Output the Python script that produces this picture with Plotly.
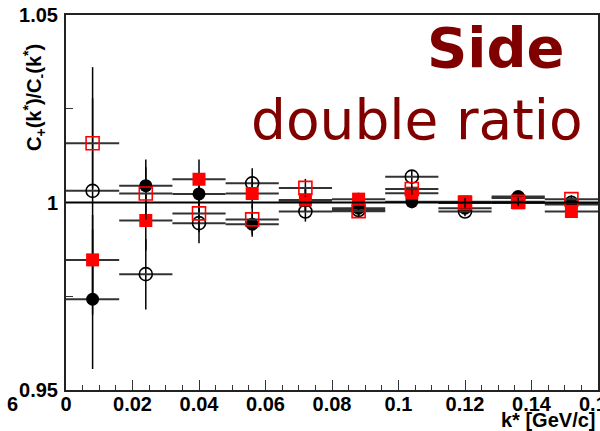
import plotly.graph_objects as go

# ---- data ----
kstar = [0.008, 0.024, 0.040, 0.056, 0.072, 0.088, 0.104, 0.120, 0.136, 0.152]
kstar_halfwidth = [0.008] * 10

filled_circle = [0.9742, 1.0045, 1.0023, 0.9942, 1.0005, 0.9985, 1.0002, 0.9985, 1.0016, 0.9995]
filled_circle_err = [0.0186, 0.0070, 0.0050, 0.0033, 0.0030, 0.0020, 0.0017, 0.0013, 0.0011, 0.0010]

open_circle = [1.0031, 0.9809, 0.9945, 1.0051, 0.9976, 0.9980, 1.0069, 0.9976, 1.0012, 0.9999]
open_circle_err = [0.0330, 0.0094, 0.0054, 0.0040, 0.0027, 0.0020, 0.0018, 0.0013, 0.0011, 0.0010]

filled_square = [0.9847, 0.9952, 1.0062, 1.0024, 1.0007, 1.0009, 1.0025, 1.0002, 0.9999, 0.9976]
filled_square_err = [0.0120, 0.0080, 0.0053, 0.0040, 0.0030, 0.0017, 0.0018, 0.0013, 0.0011, 0.0010]

open_square = [1.0158, 1.0024, 0.9971, 0.9955, 1.0039, 0.9977, 1.0036, 0.9999, 1.0002, 1.0009]
open_square_err = [0.0120, 0.0070, 0.0050, 0.0040, 0.0024, 0.0018, 0.0018, 0.0013, 0.0011, 0.0010]

x_tickvals = [0, 0.02, 0.04, 0.06, 0.08, 0.10, 0.12, 0.14]
x_ticktext = ["0", "0.02", "0.04", "0.06", "0.08", "0.1", "0.12", "0.14"]
x_last_tick = 0.16
x_last_ticktext = "0.16"
y_tickvals = [0.95, 1.0, 1.05]
y_ticktext = ["0.95", "1", "1.05"]

# ---- layout geometry ----
W, H = 600, 431
ML, MR, MT, MB = 66, 2, 15, 41
PW, PH = W - ML - MR, H - MT - MB


def px_x(p):
    return (p - ML) / PW


def px_y(p):
    return (H - MB - p) / PH


fig = go.Figure()

series = [
    (filled_circle, filled_circle_err, "circle", "black", 0),
    (open_circle, open_circle_err, "circle-open", "black", 1.6),
    (filled_square, filled_square_err, "square", "#ff0000", 0),
    (open_square, open_square_err, "square-open", "#ff0000", 1.6),
]

for vals, errs, sym, col, lw in series:
    fig.add_trace(go.Scatter(
        x=kstar, y=vals, mode="markers",
        marker=dict(symbol=sym, size=13, color=col,
                    line=dict(width=lw, color=col)),
        error_y=dict(type="data", array=errs, visible=True,
                     color="black", thickness=1.5, width=0),
        error_x=dict(type="data", array=kstar_halfwidth, visible=True,
                     color="#333333", thickness=2, width=0),
        showlegend=False, cliponaxis=True,
    ))

fig.add_hline(y=1.0, line=dict(color="black", width=2))

tickfont = dict(family="Liberation Sans, Arial, sans-serif", size=20,
                color="black", weight="bold")

fig.update_layout(
    width=W, height=H,
    margin=dict(l=ML, r=MR, t=MT, b=MB, autoexpand=False),
    paper_bgcolor="white", plot_bgcolor="white",
    xaxis=dict(range=[0, 0.16], tickvals=x_tickvals + [x_last_tick],
               ticktext=x_ticktext + [""],
               ticks="inside", ticklen=10, tickwidth=1.2, tickcolor="#333",
               minor=dict(dtick=0.005, tick0=0, ticks="inside", ticklen=5,
                          tickwidth=1.2, tickcolor="#333"),
               showline=True, linecolor="#222", linewidth=2, mirror=True,
               showgrid=False, zeroline=False, tickfont=tickfont,
               automargin=False, ticklabelstandoff=-5),
    yaxis=dict(range=[0.95, 1.05], tickvals=y_tickvals, ticktext=y_ticktext,
               ticks="inside", ticklen=10, tickwidth=1.2, tickcolor="#333",
               minor=dict(dtick=0.025, tick0=0.95, ticks="inside", ticklen=7,
                          tickwidth=1.2, tickcolor="#333"),
               showline=True, linecolor="#222", linewidth=2, mirror=True,
               showgrid=False, zeroline=False, tickfont=tickfont,
               automargin=False, ticklabelstandoff=2),
)

bold20 = dict(family="Liberation Sans, Arial", size=20, color="black", weight="bold")
annots = [
    dict(text="C<sub>+</sub>(k<sup>*</sup>)/C<sub>-</sub>(k<sup>*</sup>)",
         xref="paper", x=px_x(34), y=px_y(98), textangle=-90, font=bold20,
         xanchor="center", yanchor="middle"),
    dict(text="k* [GeV/c]", xref="paper", x=px_x(597), y=px_y(420), font=bold20,
         xanchor="right", yanchor="middle"),
    dict(text=x_last_ticktext, xref="x", x=x_last_tick, y=px_y(404), font=bold20,
         xanchor="center", yanchor="middle"),
    dict(text="6", xref="paper", x=px_x(12), y=px_y(404), font=bold20,
         xanchor="center", yanchor="middle"),
    dict(text="Side", xref="paper", x=px_x(496), y=px_y(48),
         font=dict(family="DejaVu Sans", size=56, color="#800000", weight="bold"),
         xanchor="center", yanchor="middle"),
    dict(text="double ratio", xref="paper", x=px_x(417), y=px_y(120),
         font=dict(family="DejaVu Sans", size=55, color="#800000"),
         xanchor="center", yanchor="middle"),
]
for a in annots:
    fig.add_annotation(yref="paper", showarrow=False, **a)

fig.write_html("out.html", config={"displayModeBar": False},
               post_script="document.body.style.margin='0px';document.body.style.overflow='hidden';")
